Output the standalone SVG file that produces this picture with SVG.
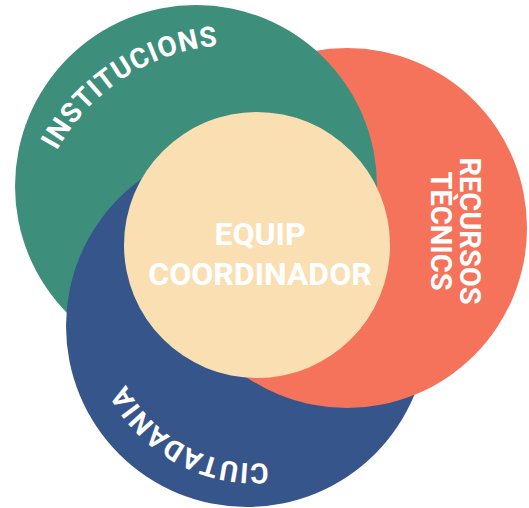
<svg xmlns="http://www.w3.org/2000/svg" width="529" height="508" viewBox="0 0 529 508">
  <style>
    .label { font-family: Roboto, "Liberation Sans", Arial, sans-serif; font-weight: 700; fill: #ffffff; }
    .arc { font-size: 28px; letter-spacing: 1px; }
    .side { font-size: 29px; text-anchor: middle; }
    .core { font-size: 32px; text-anchor: middle; }
  </style>
  <defs>
    <!-- baselines for the curved labels -->
    <path id="arc-institucions" d="M 32.3 258.6 A 203 203 0 0 1 327.2 67.1"/>
    <path id="arc-ciutadania" d="M 329.7 442.8 A 145 145 0 0 1 110.0 321.0"/>
    <!-- slightly wider than the orange disc so no seam shows along its edge -->
    <clipPath id="clip-orange">
      <circle cx="347" cy="228" r="181.5"/>
    </clipPath>
  </defs>

  <!-- outer circles: green under blue, blue under orange, green over orange -->
  <g id="institucions">
    <circle cx="196" cy="186" r="181" fill="#3D8E7A"/>
  </g>
  <g id="ciutadania">
    <circle cx="247" cy="326" r="181" fill="#36558A"/>
  </g>
  <g id="recursos-tecnics">
    <circle cx="347" cy="228" r="180" fill="#F4735A"/>
  </g>
  <g id="institucions-overlap">
    <circle cx="196" cy="186" r="181" fill="#3D8E7A" clip-path="url(#clip-orange)"/>
  </g>

  <!-- centre circle -->
  <g id="equip-coordinador">
    <circle cx="257" cy="245" r="133" fill="#FADFB3"/>
    <text class="label core" x="260" y="245">EQUIP</text>
    <text class="label core" x="260" y="285">COORDINADOR</text>
  </g>

  <!-- circle labels -->
  <g id="labels">
    <text class="label arc"><textPath href="#arc-institucions" startOffset="50%" text-anchor="middle">INSTITUCIONS</textPath></text>
    <text class="label arc"><textPath href="#arc-ciutadania" startOffset="50%" text-anchor="middle">CIUTADANIA</textPath></text>
    <g transform="translate(460 231) rotate(90)">
      <text class="label side" x="0" y="0">RECURSOS</text>
      <text class="label side" x="0" y="29">TÈCNICS</text>
    </g>
  </g>
</svg>
